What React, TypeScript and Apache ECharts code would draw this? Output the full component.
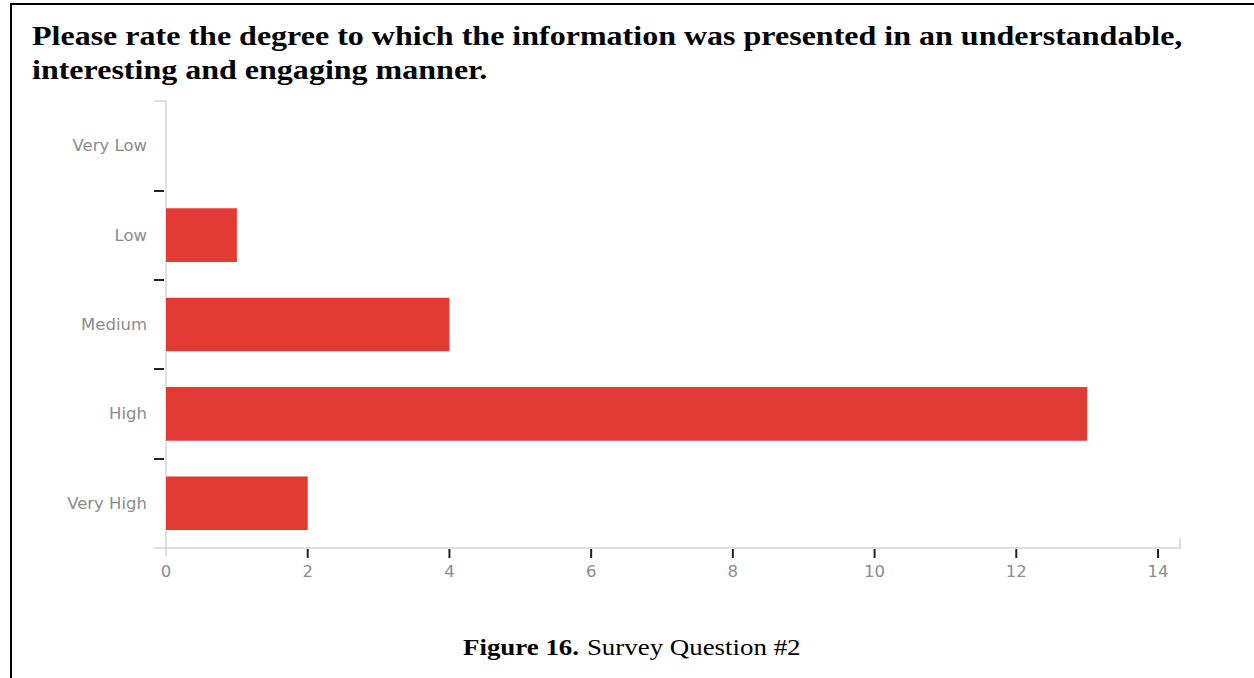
import React, { useEffect, useRef } from "react";
import * as echarts from "echarts";

const categories = ["Very Low", "Low", "Medium", "High", "Very High"];
const counts = [0, 1, 4, 13, 2];
const xMin = 0;
const xMax = 14;
const xStep = 2;
const xTickValues = [2, 4, 6, 8, 10, 12, 14];
const titleText = "Please rate the degree to which the information was presented in an understandable,\ninteresting and engaging manner.";
const captionBold = "Figure 16.";
const captionRest = "Survey Question #2";

const LABEL_FONT = "'DejaVu Sans', sans-serif";
const SERIF = "'Liberation Serif', 'Times New Roman', serif";
const GRAY_LINE = "#d4d4d4";
const DARK_TICK = "#222";
const LABEL_COLOR = "#8c8c8c";
const STRETCH = 1.186;

export default function App() {
  const ref = useRef<HTMLDivElement>(null);
  useEffect(() => {
    document.body.style.margin = "0";
    const chart = echarts.init(ref.current!, null, { renderer: "svg" });
    const W = 1254;
    const H = 678;
    const grid = { left: 166, right: 96, top: 101, bottom: 130, containLabel: false };
    const gx0 = grid.left;
    const gx1 = W - grid.right;
    const gy0 = grid.top;
    const gy1 = H - grid.bottom;
    const axisEnd = gx1 + 22;
    const capStyle = { stroke: GRAY_LINE, lineWidth: 1.5, fill: null };
    chart.setOption({
      animation: false,
      backgroundColor: "#fff",
      graphic: [
        { id: "frameTop", type: "rect", shape: { x: 10, y: 3, width: 1244, height: 2 }, style: { fill: "#000" } },
        { id: "frameLeft", type: "rect", shape: { x: 10, y: 3, width: 2, height: 675 }, style: { fill: "#000" } },
        {
          id: "capTop",
          type: "polyline",
          z: 50,
          shape: { points: [[gx0 - 12, gy0], [gx0, gy0]] },
          style: capStyle,
        },
        {
          id: "capBottom",
          type: "polyline",
          z: 50,
          shape: { points: [[gx0 - 12, gy1], [gx0, gy1], [gx0, gy1 + 8]] },
          style: capStyle,
        },
        {
          id: "capRight",
          type: "polyline",
          z: 50,
          shape: { points: [[gx1, gy1], [axisEnd, gy1], [axisEnd, gy1 - 10]] },
          style: capStyle,
        },
        {
          id: "title",
          type: "text",
          x: 32,
          y: 19,
          scaleX: STRETCH,
          scaleY: 1,
          style: {
            text: titleText,
            fontFamily: SERIF,
            fontWeight: "bold",
            fontSize: 27,
            lineHeight: 34,
            fill: "#000",
            textAlign: "left",
            textVerticalAlign: "top",
          },
        },
        {
          id: "caption",
          type: "text",
          x: 463,
          y: 636,
          scaleX: 1.17,
          scaleY: 1,
          style: {
            text: `{b|${captionBold}}  {n|${captionRest}}`,
            textAlign: "left",
            textVerticalAlign: "top",
            rich: {
              b: { fontFamily: SERIF, fontWeight: "bold", fontSize: 23, fill: "#000" },
              n: { fontFamily: SERIF, fontWeight: "normal", fontSize: 23, fill: "#000" },
            },
          },
        },
      ],
      grid,
      xAxis: {
        type: "value",
        position: "bottom",
        min: xMin,
        max: xMax,
        interval: xStep,
        splitLine: { show: false },
        axisLine: { show: true, onZero: false, lineStyle: { color: GRAY_LINE, width: 1.5 } },
        axisTick: { show: false },
        axisLabel: {
          margin: 15,
          fontFamily: LABEL_FONT,
          fontSize: 16.5,
          color: LABEL_COLOR,
        },
      },
      yAxis: [
        {
          type: "category",
          data: categories,
          inverse: true,
          axisLine: { show: true, onZero: false, lineStyle: { color: GRAY_LINE, width: 1.5 } },
          axisTick: { show: false },
          axisLabel: {
            margin: 19,
            fontFamily: LABEL_FONT,
            fontSize: 16.5,
            color: LABEL_COLOR,
          },
        },
        {
          type: "value",
          position: "left",
          offset: 2,
          min: 0,
          max: categories.length,
          interval: 1,
          splitLine: { show: false },
          axisLine: { show: false, onZero: false },
          axisTick: { show: true, customValues: [1, 2, 3, 4], length: 10, lineStyle: { color: DARK_TICK, width: 2 } },
          axisLabel: { show: false },
        },
      ],
      series: [
        {
          type: "bar",
          xAxisIndex: 0,
          yAxisIndex: 0,
          data: counts,
          barWidth: "60%",
          itemStyle: { color: "#e43a36" },
        },
        {
          // x-axis tick marks placed through the chart's own x scale
          type: "scatter",
          xAxisIndex: 0,
          yAxisIndex: 1,
          data: xTickValues.map((v) => [v, 0]),
          symbol: "rect",
          symbolSize: [2, 9],
          symbolOffset: [0, 5.5],
          clip: false,
          silent: true,
          z: 10,
          itemStyle: { color: DARK_TICK, opacity: 1 },
          emphasis: { disabled: true },
        },
      ],
    });
    return () => chart.dispose();
  }, []);
  return <div ref={ref} style={{ width: 1254, height: 678 }} />;
}
